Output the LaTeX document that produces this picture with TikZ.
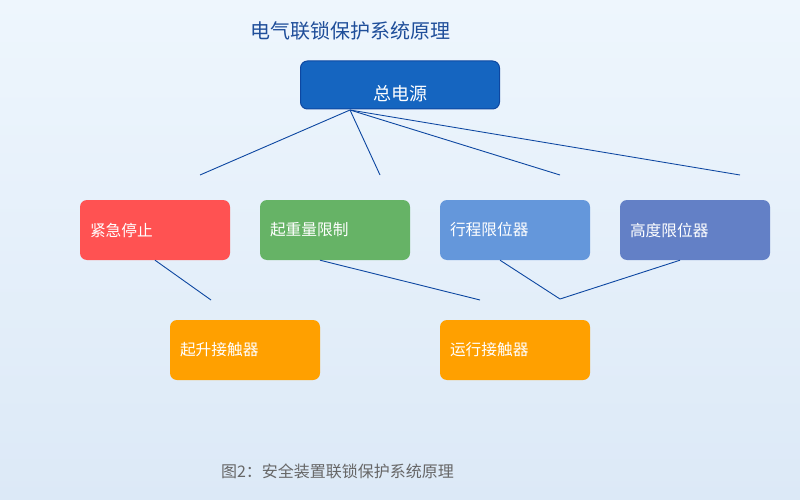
\documentclass[tikz,border=0pt]{standalone}
\usepackage{fontspec}
\newfontfamily\cjk{Noto Sans CJK SC}
\usetikzlibrary{calc}

\begin{document}
\begin{tikzpicture}[x=1pt,y=-1pt]
\definecolor{bgTop}{HTML}{EEF6FD}
\definecolor{bgBottom}{HTML}{DCE9F7}
\definecolor{titleBlue}{HTML}{1F4E9A}
\definecolor{powerFill}{HTML}{1565C0}
\definecolor{powerEdge}{HTML}{0D47A1}
\definecolor{wireBlue}{HTML}{0D47A1}
\definecolor{stopRed}{HTML}{FF5252}
\definecolor{loadGreen}{HTML}{66B366}
\definecolor{travelBlue}{HTML}{6497DB}
\definecolor{heightBlue}{HTML}{6380C6}
\definecolor{contactOrange}{HTML}{FFA000}
\definecolor{captionGray}{HTML}{666666}
\tikzset{
  device/.style={rounded corners=7pt,minimum width=150pt,minimum height=60pt,
    text width=130pt,inner xsep=10pt,align=left,text=white,font=\cjk\fontsize{15.7}{18}\selectfont},
  wire/.style={draw=wireBlue,line width=0.9pt}
}
\shade[top color=bgTop,bottom color=bgBottom] (0,0) rectangle (800,500);
\node[text=titleBlue,font=\cjk\fontsize{20}{24}\selectfont] (title) at (350,31) {电气联锁保护系统原理};
\node[draw=powerEdge,fill=powerFill,line width=1pt,rounded corners=7pt,minimum width=199pt,minimum height=48pt,
  text=white,font=\cjk\fontsize{18}{21}\selectfont] (power) at (400,85) {\raisebox{-15.5pt}[0pt][0pt]{总电源}};
\node[device,fill=stopRed] (stop) at (155,230) {紧急停止};
\node[device,fill=loadGreen] (load) at (335,230) {起重量限制};
\node[device,fill=travelBlue] (travel) at (515,230) {行程限位器};
\node[device,fill=heightBlue] (height) at (695,230) {高度限位器};
\node[device,fill=contactOrange] (hoist) at (245,350) {起升接触器};
\node[device,fill=contactOrange] (run) at (515,350) {运行接触器};
\coordinate (hub) at (350,110);
\coordinate (join) at (560,299);
\foreach \x/\name in {200/a,380/b,560/c,740/d} {
  \coordinate (end\name) at (\x,175);
  \draw[wire] (hub) -- (end\name);
}
\coordinate (hoistEnd) at (211,300);
\coordinate (loadEnd) at (480,300);
\draw[wire] (stop.south) -- (hoistEnd);
\draw[wire] ($(load.south)+(-15,0)$) -- (loadEnd);
\draw[wire] ($(travel.south)+(-15,0)$) -- (join) -- ($(height.south)+(-15,0)$);
\node[text=captionGray,font=\cjk\fontsize{16}{19}\selectfont] (caption) at (337.5,471) {图2：安全装置联锁保护系统原理};
\end{tikzpicture}
\end{document}
